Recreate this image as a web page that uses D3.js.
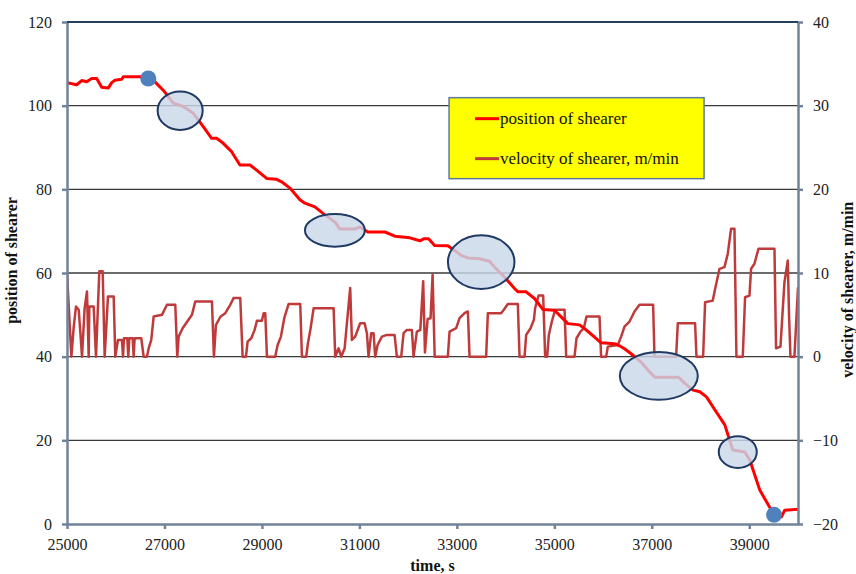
<!DOCTYPE html>
<meta charset="utf-8">
<style>
body { margin: 0; background: #fff; }
.line { fill: none; stroke-linejoin: round; }
.axis path, .axis line { stroke: #70839a; }
</style>
<body>
<div id="chart"></div>
<script src="https://d3js.org/d3.v7.min.js"></script>
<script>
// velocity of shearer, m/min  [time s, value]
var velocity = [
  [25000,10],[25090,0],[25137,3.5],[25185,6],[25240,5.6],[25273,3],[25308,0],[25362,5.8],[25410,7.8],[25445,0],
  [25458,6],[25547,6],[25595,0],[25663,10.2],[25732,10.2],[25773,0],[25841,7.2],[25958,7.2],[25991,0],[26046,2],
  [26128,2],[26149,0],[26169,2.2],[26237,2.2],[26258,0],[26279,2.2],[26347,2.2],[26368,0],[26388,2.2],[26524,2.2],
  [26573,0],[26641,0],[26676,1],[26729,2],[26778,4.8],[26949,5],[27051,6.2],[27222,6.2],[27263,0],[27291,2.4],
  [27373,3.4],[27468,4.2],[27564,5],[27632,6.6],[27974,6.6],[28015,0],[28056,3.8],[28152,4.8],[28248,5.2],[28350,6.2],
  [28419,7],[28555,7],[28604,0],[28672,0],[28706,1.8],[28781,2.2],[28850,3.2],[28897,4.3],[29000,4.3],[29035,5.2],
  [29068,5.2],[29103,0],[29273,0],[29322,1.4],[29390,2.4],[29458,4.6],[29548,6.3],[29786,6.3],[29821,0],[29909,0],
  [29944,1.6],[29999,3.4],[30061,5.8],[30471,5.8],[30504,0],[30573,1],[30627,0],[30697,1],[30744,4],[30811,8.2],
  [30846,2],[30914,2.4],[31016,4],[31107,4],[31154,2.8],[31188,0],[31242,2.8],[31291,2.8],[31324,0],[31373,1.4],
  [31462,2.4],[31564,2.6],[31722,2.6],[31769,0],[31858,0],[31907,2.8],[31974,3.2],[32077,3.2],[32111,0],[32179,3],
  [32250,3.2],[32309,9],[32345,0.5],[32400,4.5],[32460,4.6],[32502,9.8],[32545,0],[32815,0],[32850,3],[32986,3.4],
  [33055,4.6],[33158,5.2],[33226,5.4],[33260,0],[33601,0],[33636,5.2],[33909,5.2],[33964,5.6],[34046,6.3],[34251,6.3],
  [34286,0],[34389,0],[34422,2.6],[34512,3.4],[34580,4.4],[34606,5.8],[34676,7.3],[34771,7.3],[34812,0],[34853,0],
  [34887,2.6],[34949,4.2],[35017,5.6],[35210,5.6],[35243,0],[35414,0],[35455,2.2],[35537,3],[35605,3.4],[35660,4.8],
  [35927,4.8],[35960,0],[36063,0],[36098,1.2],[36303,1.4],[36371,2.4],[36440,3.6],[36543,4.2],[36645,5.4],[36748,6.2],
  [37027,6.2],[37055,0],[37499,0],[37534,4],[37888,4],[37917,0],[38053,0],[38094,6.5],[38251,6.7],[38299,8.1],
  [38389,10.5],[38491,10.7],[38559,12.3],[38627,15.3],[38696,15.3],[38737,0],[38867,0],[38914,7.1],[39004,7.3],[39037,10.5],
  [39106,11.1],[39189,12.9],[39517,12.9],[39550,1],[39640,1.2],[39722,8.9],[39790,11.5],[39817,4.8],[39845,0],[39927,0],
  [40000,8.3]
];
// position of shearer  [time s, value]
var position = [
  [25000,105.5],[25199,105],[25302,106],[25404,105.7],[25507,106.5],[25609,106.5],[25712,104.4],[25847,104.2],[25917,105.5],[25985,106.1],
  [26122,106.3],[26155,106.9],[26497,106.9],[26668,106.5],[26805,105.7],[26975,103.7],[27181,100.6],[27386,99.8],[27591,98.2],[27796,95],
  [27968,92.2],[28071,92.2],[28206,91],[28378,89],[28549,85.8],[28754,85.8],[28891,84.6],[29096,82.6],[29302,82.4],[29404,81.8],
  [29574,80.3],[29780,77.5],[29882,76.7],[30087,75.8],[30292,73.9],[30497,72.2],[30600,70.5],[30908,70.5],[31010,71],[31174,69.8],
  [31523,69.8],[31728,68.8],[32036,68.4],[32241,67.7],[32330,68.2],[32420,68.2],[32543,66.6],[32815,66.5],[32953,65.4],[33088,64.2],
  [33226,63.6],[33466,63.4],[33671,62.8],[33773,61.4],[33979,59],[34184,56.3],[34251,55.5],[34422,55.5],[34594,53.9],[34764,51.3],
  [35004,51.1],[35140,49.5],[35277,47.9],[35517,47.6],[35620,46.7],[35825,44.7],[35960,43.3],[36235,43.1],[36338,42.6],[36440,41.9],
  [36576,40.7],[36781,38.7],[36959,36.3],[37062,35.1],[37540,35.1],[37575,34.8],[37677,33.6],[37848,32],[37985,31.6],[38122,30.4],
  [38293,27.3],[38498,23.7],[38662,17.7],[38908,17.2],[39011,15.3],[39216,8.1],[39509,2.2],[39660,1.7],[39728,3.3],[40000,3.5]
];
// start / end points of the cut
var markers = [[26668,106.5],[39509,2.2]];
// highlighted zones: centre time, centre position, half span time, half span position
var zones = [
  [27322,98.8,462,4.6],
  [30497,70.2,615,3.9],
  [33499,62.6,683,6.4],
  [37144,35.4,800,5.7],
  [38764,17.2,390,3.8]
];
var xTicks = [25000,27000,29000,31000,33000,35000,37000,39000];
var posTicks = [0,20,40,60,80,100,120];
var velTicks = [-20,-10,0,10,20,30,40];
var legendItems = ["position of shearer", "velocity of shearer, m/min"];

var serif = "'Liberation Serif', 'Times New Roman', serif";

var margin = {top: 22, right: 58, bottom: 50, left: 67},
    width = 856 - margin.left - margin.right,
    height = 574 - margin.top - margin.bottom;

var x = d3.scaleLinear().domain([25000, 40000]).range([0, width]);
var y = d3.scaleLinear().domain([0, 120]).range([height, 0]);
var y2 = d3.scaleLinear().domain([-20, 40]).range([height, 0]);

var svg = d3.select("#chart").append("svg")
    .attr("width", 856)
    .attr("height", 574)
    .attr("font-family", serif)
  .append("g")
    .attr("transform", "translate(" + margin.left + "," + margin.top + ")");

svg.append("clipPath").attr("id", "clip")
  .append("rect").attr("width", width).attr("height", height);

// gridlines
svg.selectAll(".grid")
    .data(posTicks.filter(function(d) { return d > 0 && d < 120; }))
  .enter().append("line")
    .attr("x1", 0).attr("x2", width)
    .attr("y1", function(d) { return y(d); })
    .attr("y2", function(d) { return y(d); })
    .style("stroke", "#3a3a3a")
    .style("stroke-width", 1.3);

// velocity line
var velLine = d3.line()
    .x(function(d) { return x(d[0]); })
    .y(function(d) { return y2(d[1]); });
svg.append("path")
    .datum(velocity)
    .attr("class", "line")
    .attr("clip-path", "url(#clip)")
    .style("stroke", "#bf3b3b")
    .style("stroke-width", 2.5)
    .attr("d", velLine);

// position line
var posLine = d3.line()
    .x(function(d) { return x(d[0]); })
    .y(function(d) { return y(d[1]); });
svg.append("path")
    .datum(position)
    .attr("class", "line")
    .attr("clip-path", "url(#clip)")
    .style("stroke", "#ff0000")
    .style("stroke-width", 3)
    .attr("d", posLine);

// ellipses
svg.selectAll(".zone")
    .data(zones)
  .enter().append("ellipse")
    .attr("cx", function(d) { return x(d[0]); })
    .attr("cy", function(d) { return y(d[1]); })
    .attr("rx", function(d) { return x(d[0] + d[2]) - x(d[0]); })
    .attr("ry", function(d) { return y(d[1] - d[3]) - y(d[1]); })
    .style("fill", "#cbd8ea")
    .style("fill-opacity", 0.82)
    .style("stroke", "#1f3a63")
    .style("stroke-width", 2);

svg.selectAll(".marker")
    .data(markers)
  .enter().append("circle")
    .attr("cx", function(d) { return x(d[0]); })
    .attr("cy", function(d) { return y(d[1]); })
    .attr("r", 8)
    .style("fill", "#4f81bd");

// axes
function styleAxis(g) {
  g.attr("font-family", serif).attr("font-size", 16);
  g.selectAll("text").style("fill", "#222");
  g.selectAll("path, line").style("stroke-width", 2.5);
}
svg.append("g")
    .attr("class", "axis")
    .attr("transform", "translate(0," + height + ")")
    .call(d3.axisBottom(x).tickValues(xTicks).tickFormat(d3.format("d")).tickSize(5).tickPadding(10).tickSizeOuter(0))
    .call(styleAxis);
svg.append("g")
    .attr("class", "axis")
    .call(d3.axisLeft(y).tickValues(posTicks).tickSize(5).tickPadding(10).tickSizeOuter(0))
    .call(styleAxis);
svg.append("g")
    .attr("class", "axis")
    .attr("transform", "translate(" + width + ",0)")
    .call(d3.axisRight(y2).tickValues(velTicks).tickSize(5).tickPadding(10).tickSizeOuter(0))
    .call(styleAxis);
svg.append("line")
    .attr("x1", 0).attr("x2", width)
    .attr("y1", 0).attr("y2", 0)
    .style("stroke", "#243f60")
    .style("stroke-width", 2);

// legend
var legend = svg.append("g")
    .attr("transform", "translate(" + x(32840) + "," + (y(100) - 8) + ")");
legend.append("rect")
    .attr("width", 255).attr("height", 81)
    .style("fill", "#ffff00")
    .style("stroke", "#5c7a99")
    .style("stroke-width", 1.5);
legend.selectAll(".key")
    .data(legendItems)
  .enter().append("line")
    .attr("x1", 26).attr("x2", 50)
    .attr("y1", function(d, i) { return 21 + i * 40; })
    .attr("y2", function(d, i) { return 21 + i * 40; })
    .style("stroke", function(d, i) { return i ? "#bf3b3b" : "#ff0000"; })
    .style("stroke-width", 3);
legend.selectAll(".label")
    .data(legendItems)
  .enter().append("text")
    .attr("x", 51)
    .attr("y", function(d, i) { return 26 + i * 40; })
    .attr("font-size", 17)
    .style("fill", "#111")
    .text(function(d) { return d; });

// axis titles
function title(t) {
  return t.attr("font-size", 16).attr("font-weight", "bold").style("fill", "#111").style("text-anchor", "middle");
}
svg.append("text")
    .attr("x", width / 2)
    .attr("y", height + 47)
    .call(title)
    .text("time, s");
svg.append("text")
    .attr("transform", "translate(-50," + y(63) + ") rotate(-90)")
    .call(title)
    .text("position of shearer");
svg.append("text")
    .attr("transform", "translate(" + (width + 55) + "," + y2(8) + ") rotate(-90)")
    .call(title)
    .text("velocity of shearer, m/min");
</script>
</body>
